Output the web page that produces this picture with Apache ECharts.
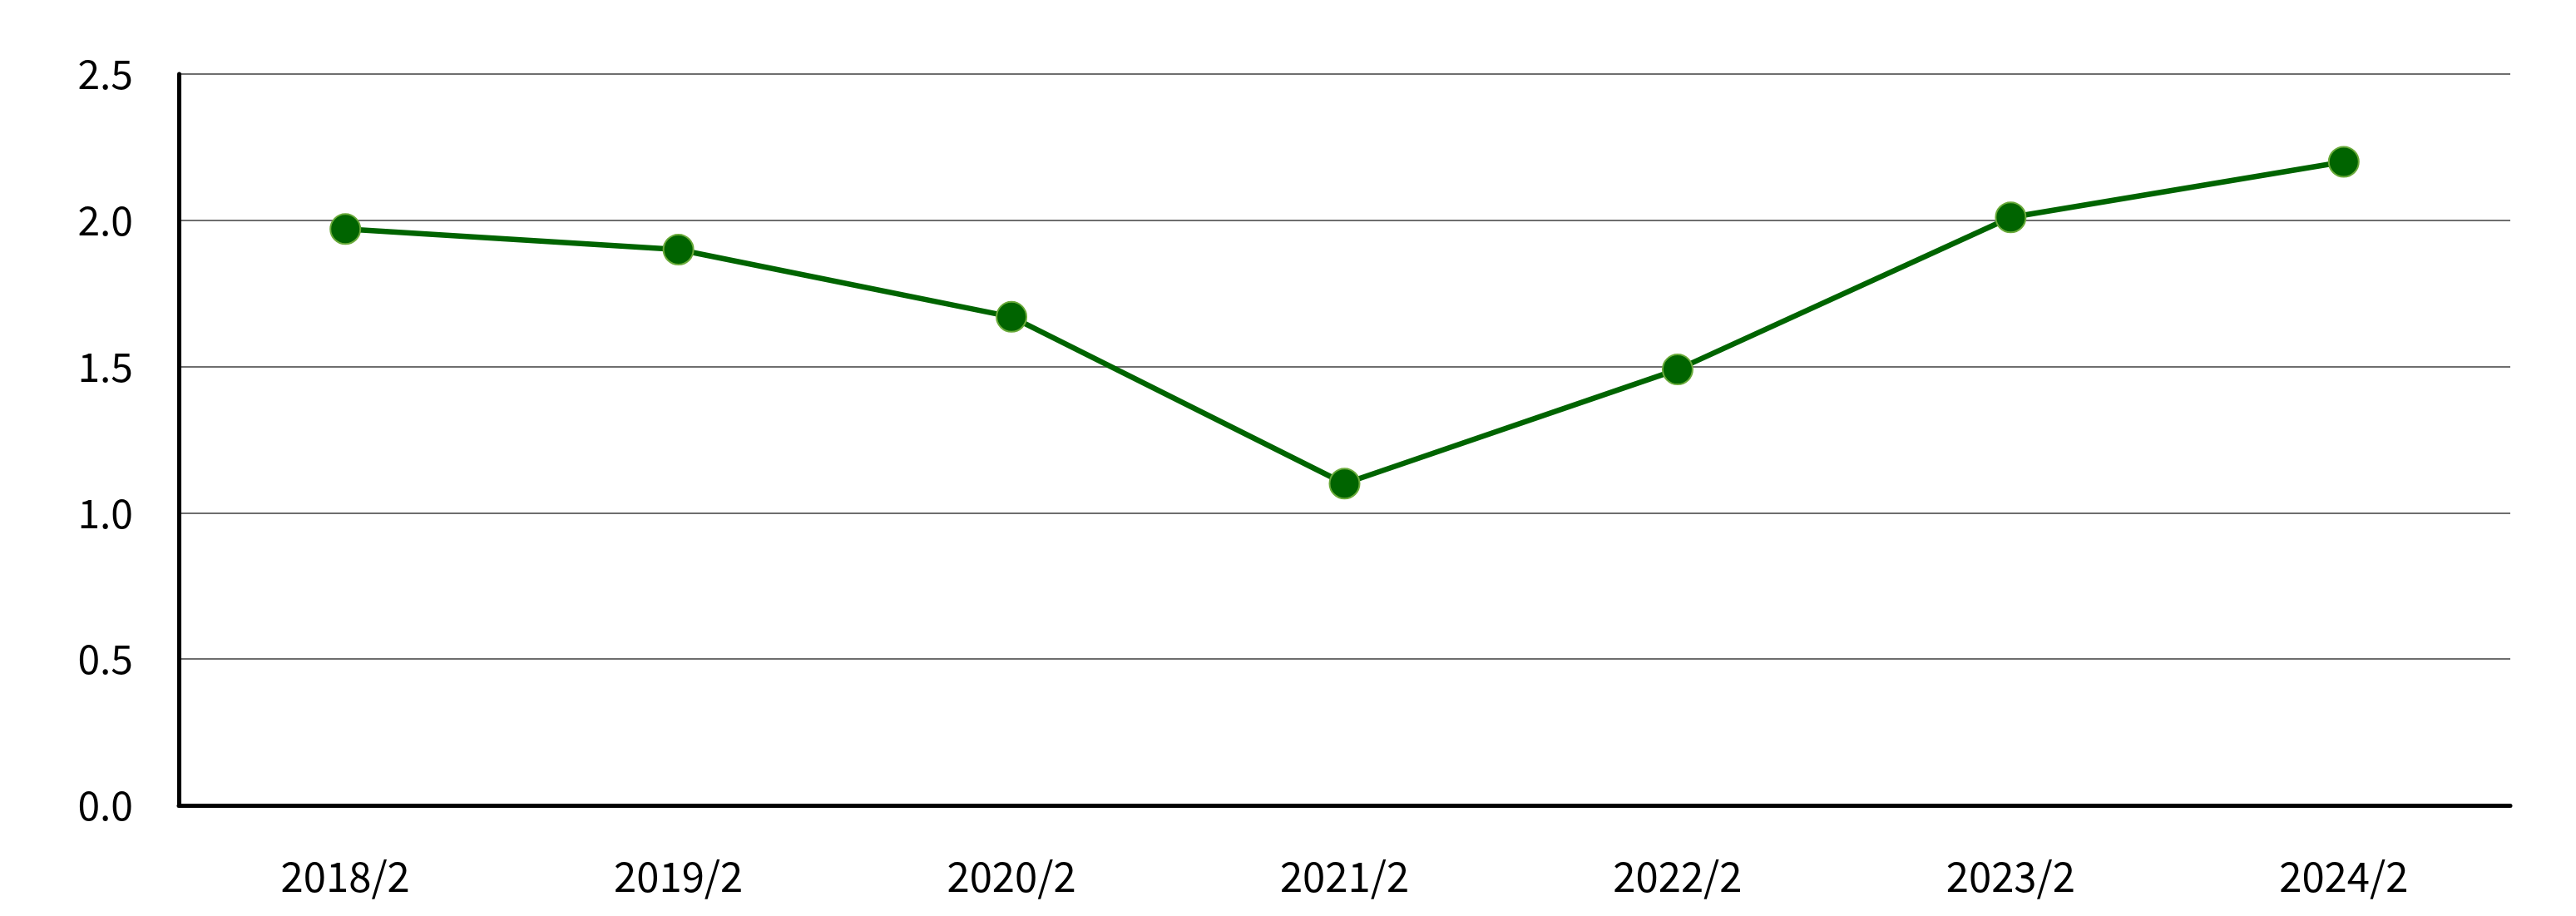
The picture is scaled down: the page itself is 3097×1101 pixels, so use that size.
<!DOCTYPE html>
<html><head><meta charset="utf-8">
<script src="https://cdn.jsdelivr.net/npm/echarts@6/dist/echarts.min.js"></script>
<style>html,body{margin:0;padding:0;background:#fff}#c{width:3097px;height:1101px}</style>
</head><body><div id="c"></div>
<script>
const categories = ['2018/2','2019/2','2020/2','2021/2','2022/2','2023/2','2024/2'];
const values = [1.97, 1.90, 1.67, 1.10, 1.49, 2.01, 2.20];
const yMin = 0, yMax = 2.5, yStep = 0.5;
const font = '"Noto Sans CJK JP", "Noto Sans", sans-serif';
const chart = echarts.init(document.getElementById('c'), null, {renderer:'canvas'});
chart.setOption({
  animation:false,
  backgroundColor:'#fff',
  grid:{left:215, right:79, top:89, bottom:133, containLabel:false},
  xAxis:{type:'category', data:categories, boundaryGap:true,
    axisLine:{show:true, lineStyle:{color:'#000', width:5}},
    axisTick:{show:false},
    axisLabel:{color:'#000', fontSize:49, fontFamily:font, margin:61},
    splitLine:{show:false}},
  yAxis:{type:'value', min:yMin, max:yMax, interval:yStep,
    axisLine:{show:true, lineStyle:{color:'#000', width:5}},
    axisTick:{show:false},
    axisLabel:{color:'#000', fontSize:48, fontFamily:font, margin:55, formatter:v=>v.toFixed(1)},
    splitLine:{show:true, lineStyle:{color:'#6e6e6e', width:2}}},
  series:[{type:'line', data:values, symbol:'circle', symbolSize:36,
    lineStyle:{color:'#006400', width:6.5},
    itemStyle:{color:'#006400', borderColor:'#6aaa3a', borderWidth:2}}]
});
</script></body></html>
